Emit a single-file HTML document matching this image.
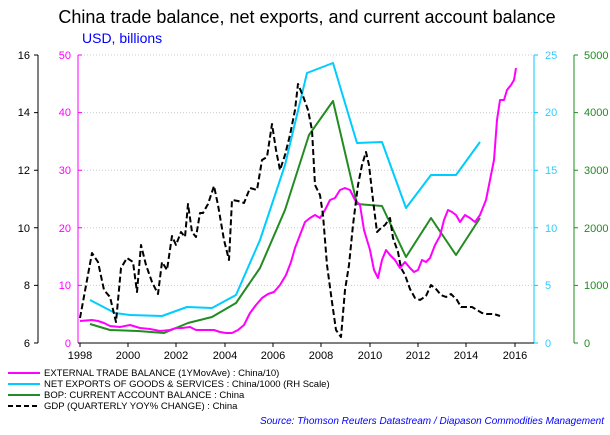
<!DOCTYPE html><html><head><style>body{margin:0;background:#fff}svg{font-family:"Liberation Sans",sans-serif}</style></head><body>
<svg width="610" height="430" viewBox="0 0 610 430">
<text x="307" y="23" font-size="18" text-anchor="middle" fill="#000">China trade balance, net exports, and current account balance</text>
<text x="82" y="43" font-size="14" fill="#0000ff">USD, billions</text>
<g stroke="#ccc" stroke-dasharray="1,2" stroke-width="1">
<line x1="78" y1="55" x2="534" y2="55"/><line x1="78" y1="112.6" x2="534" y2="112.6"/><line x1="78" y1="170.2" x2="534" y2="170.2"/><line x1="78" y1="227.8" x2="534" y2="227.8"/><line x1="78" y1="285.4" x2="534" y2="285.4"/></g>
<line x1="38" y1="55" x2="38" y2="343" stroke="#000"/>
<line x1="78" y1="55" x2="78" y2="343" stroke="#f0f"/>
<line x1="534" y1="55" x2="534" y2="343" stroke="#00ccff"/>
<line x1="574" y1="55" x2="574" y2="343" stroke="#228b22"/>
<line x1="78" y1="343" x2="534" y2="343" stroke="#000"/>
<g stroke-width="1">
<path stroke="#000" d="M34 55h4M34 112.6h4M34 170.2h4M34 227.8h4M34 285.4h4M34 343h4"/>
<path stroke="#f0f" d="M78 55h4M78 112.6h4M78 170.2h4M78 227.8h4M78 285.4h4"/>
<path stroke="#00ccff" d="M534 55h4M534 112.6h4M534 170.2h4M534 227.8h4M534 285.4h4M534 343h4"/>
<path stroke="#228b22" d="M574 55h4M574 112.6h4M574 170.2h4M574 227.8h4M574 285.4h4M574 343h4"/>
</g>
<g font-size="11" fill="#000" text-anchor="end">
<text x="30" y="59">16</text><text x="30" y="116">14</text><text x="30" y="174">12</text><text x="30" y="232">10</text><text x="30" y="289">8</text><text x="30" y="347">6</text></g>
<g font-size="11" fill="#f0f" text-anchor="end">
<text x="71" y="59">50</text><text x="71" y="116">40</text><text x="71" y="174">30</text><text x="71" y="232">20</text><text x="71" y="289">10</text><text x="71" y="347">0</text></g>
<g font-size="11" fill="#33ccff">
<text x="545" y="59">25</text><text x="545" y="116">20</text><text x="545" y="174">15</text><text x="545" y="232">10</text><text x="545" y="289">5</text><text x="545" y="347">0</text></g>
<g font-size="11" fill="#228b22">
<text x="584" y="59">5000</text><text x="584" y="116">4000</text><text x="584" y="174">3000</text><text x="584" y="232">2000</text><text x="584" y="289">1000</text><text x="584" y="347">0</text></g>
<g font-size="11" fill="#000" text-anchor="middle">
<text x="80" y="359">1998</text><text x="128" y="359">2000</text><text x="176" y="359">2002</text><text x="225" y="359">2004</text><text x="273" y="359">2006</text><text x="321" y="359">2008</text><text x="370" y="359">2010</text><text x="418" y="359">2012</text><text x="466" y="359">2014</text><text x="515" y="359">2016</text></g>
<g stroke="#000"><path d="M80 343v4M128 343v4M176 343v4M225 343v4M273 343v4M321 343v4M370 343v4M418 343v4M466 343v4M515 343v4"/></g>
<g fill="none" stroke-width="2" stroke-linejoin="round">
<polyline stroke="#228b22" points="90,324 110,330 138,331 164,333 188,323 212,317 236,303 260,268 285,210 309,135 333,101 357,204 382,206 406,257 431,218 456,255 480,218"/>
<polyline stroke="#00ccff" points="90,300 115,313 130,315 162,316 187,307 212,308 236,295 260,240 285,165 307,73 333,63 357,143 382,142 406,208 431,175 456,175 480,142"/>
<polyline stroke="#ff00ff" points="80,321 92,320 98,321 104,323 110,326 120,327 130,325 140,328 150,329 160,331 170,330 176,328 182,328 190,327 196,330 205,330 214,330 220,332 226,333 232,333 238,330 244,325 250,313 256,305 262,298 268,294 274,292 280,285 286,275 291,262 295,248 300,235 305,222 310,218 315,215 320,218 325,210 330,200 335,198 340,190 345,188 350,190 355,200 360,205 364,230 370,250 374,270 378,278 382,260 386,250 390,255 395,260 400,268 405,262 410,268 414,272 418,270 422,260 426,262 430,258 435,245 440,236 444,220 448,210 452,212 456,215 460,222 465,215 470,218 475,222 480,215 486,200 490,180 494,160 497,120 500,100 504,100 507,90 511,85 514,80 516,68"/>
<polyline stroke="#000" stroke-dasharray="6,3" points="80,318 92,253 98,262 104,290 110,297 116,322 121,268 127,258 133,262 137,292 141,245 146,265 152,282 158,294 162,262 167,270 172,236 176,245 181,232 185,237 188,204 192,232 196,237 200,213 203,213 208,204 214,186 218,205 224,240 229,260 232,200 238,201 244,203 250,188 257,190 262,160 267,157 272,124 276,150 280,170 285,155 290,135 295,110 298,84 303,96 308,110 312,130 315,185 320,195 323,215 327,265 332,302 336,330 341,337 345,290 349,265 353,225 358,185 362,165 366,152 369,165 373,200 377,232 381,228 385,225 390,218 393,238 398,252 401,268 405,275 410,289 415,298 420,300 426,296 431,285 436,289 441,295 446,297 451,294 457,300 461,307 466,307 472,307 477,310 482,313 487,314 494,314 500,316"/>
</g>
<g stroke-width="2"><line x1="8" y1="373" x2="40" y2="373" stroke="#f0f"/><line x1="8" y1="384" x2="40" y2="384" stroke="#00ccff"/><line x1="8" y1="395" x2="40" y2="395" stroke="#228b22"/><line x1="8" y1="406" x2="40" y2="406" stroke="#000" stroke-dasharray="5,3"/></g>
<g font-size="9.5" fill="#000"><text x="44" y="376">EXTERNAL TRADE BALANCE (1YMovAve) : China/10)</text><text x="44" y="387">NET EXPORTS OF GOODS &amp; SERVICES : China/1000 (RH Scale)</text><text x="44" y="398">BOP: CURRENT ACCOUNT BALANCE : China</text><text x="44" y="409">GDP (QUARTERLY YOY% CHANGE) : China</text></g>
<text x="604" y="424" font-size="10" font-style="italic" fill="#0000ff" text-anchor="end">Source: Thomson Reuters Datastream / Diapason Commodities Management</text>
</svg></body></html>
